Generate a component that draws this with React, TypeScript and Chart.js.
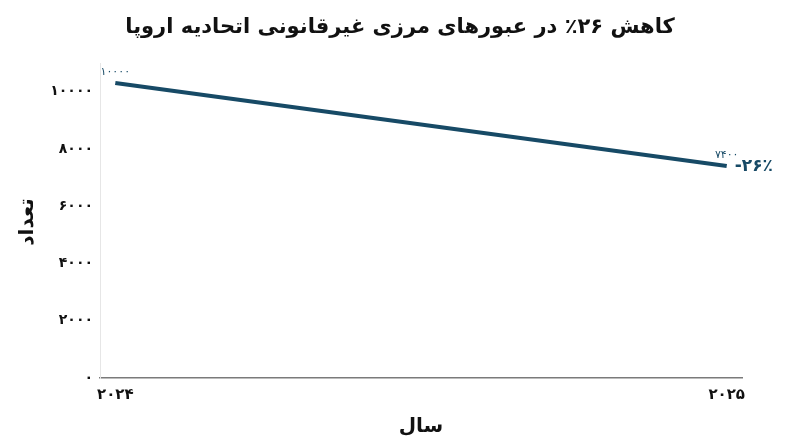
import React, { useEffect, useRef } from "react";
import { Chart, registerables } from "chart.js";

Chart.register(...registerables);

const years = [2024, 2025];
const counts = [10300, 7400];
const pointLabels = ["10000", "7400"];
const yTicks = [0, 2000, 4000, 6000, 8000, 10000];
const changeLabel = "-26%";
const titleText = "کاهش ۲۶٪ در عبورهای مرزی غیرقانونی اتحادیه اروپا";
const yTitle = "تعداد";
const xTitle = "سال";

const FONT = "'DejaVu Sans', sans-serif";
const LINE = "#174a66";

const toFa = (s: string | number) =>
  String(s)
    .replace(/[0-9]/g, (d) => "۰۱۲۳۴۵۶۷۸۹"[Number(d)])
    .replace(/%/g, "٪");

const labelsPlugin = {
  id: "customText",
  afterDraw(chart: any) {
    const ctx = chart.ctx;
    const xs = chart.scales.x;
    const ys = chart.scales.y;
    const area = chart.chartArea;
    ctx.save();
    // title
    ctx.fillStyle = "#111";
    ctx.font = `bold 21px ${FONT}`;
    ctx.textAlign = "center";
    ctx.textBaseline = "middle";
    ctx.direction = "rtl";
    ctx.fillText(titleText, 400, 28);
    // x title
    ctx.font = `bold 20px ${FONT}`;
    ctx.fillText(xTitle, (area.left + area.right) / 2, 427);
    // y title
    ctx.save();
    ctx.translate(28, 222);
    ctx.rotate(-Math.PI / 2);
    ctx.fillText(yTitle, 0, 0);
    ctx.restore();
    ctx.direction = "ltr";
    // point labels
    ctx.fillStyle = LINE;
    ctx.font = `11px ${FONT}`;
    years.forEach((yr, i) => {
      const px = xs.getPixelForValue(yr);
      const py = ys.getPixelForValue(counts[i]);
      ctx.fillText(toFa(pointLabels[i]), px, py - 11);
    });
    // change label
    const lx = xs.getPixelForValue(years[1]);
    const ly = ys.getPixelForValue(counts[1]);
    ctx.font = `bold 17px ${FONT}`;
    ctx.textAlign = "left";
    ctx.fillText(toFa(changeLabel), lx + 8, ly);
    ctx.restore();
  },
};

export default function App() {
  const ref = useRef<HTMLCanvasElement | null>(null);
  useEffect(() => {
    document.body.style.margin = "0";
    const canvas = ref.current!;
    const chart = new Chart(canvas, {
      type: "line",
      data: {
        datasets: [
          {
            data: years.map((y, i) => ({ x: y, y: counts[i] })),
            borderColor: LINE,
            borderWidth: 4,
            pointRadius: 0,
            tension: 0,
            fill: false,
          },
        ],
      },
      options: {
        animation: false,
        responsive: false,
        maintainAspectRatio: false,
        layout: { padding: { left: 0, right: 58, top: 63, bottom: 0 } },
        plugins: { legend: { display: false }, tooltip: { enabled: false }, title: { display: false } },
        scales: {
          x: {
            type: "linear",
            min: 2023.975,
            max: 2025.025,
            afterBuildTicks: (s: any) => {
              s.ticks = years.map((v) => ({ value: v }));
            },
            afterFit: (s: any) => {
              s.height = 69;
            },
            grid: { display: false, drawTicks: false },
            border: { display: true, color: "#7a7a7a", width: 1.5 },
            ticks: {
              padding: 8,
              color: "#111",
              font: { family: FONT, size: 15, weight: "bold" },
              callback: (v: any) => toFa(v),
              maxRotation: 0,
            },
          },
          y: {
            min: 0,
            max: 11000,
            afterBuildTicks: (s: any) => {
              s.ticks = yTicks.map((v) => ({ value: v }));
            },
            afterFit: (s: any) => {
              s.width = 100;
            },
            grid: { display: false, drawTicks: false },
            border: { display: true, color: "#e6e6e6", width: 1 },
            ticks: {
              padding: 7,
              color: "#111",
              font: { family: FONT, size: 14, weight: "bold" },
              callback: (v: any) => toFa(v),
            },
          },
        },
      },
      plugins: [labelsPlugin],
    } as any);
    return () => chart.destroy();
  }, []);
  return (
    <div style={{ width: 800, height: 447, background: "#fff" }}>
      <canvas ref={ref} width={800} height={447} />
    </div>
  );
}
